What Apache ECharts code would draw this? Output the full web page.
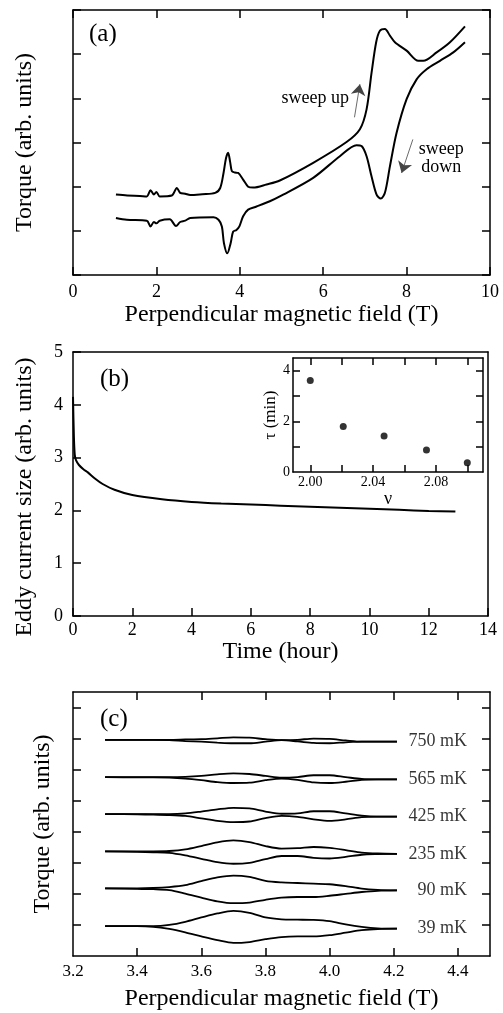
<!DOCTYPE html>
<html>
<head>
<meta charset="utf-8">
<script src="https://cdn.jsdelivr.net/npm/echarts@6/dist/echarts.min.js"></script>
<style>
  html, body { margin: 0; padding: 0; background: #fff; }
  #chart { width: 503px; height: 1013px; }
</style>
</head>
<body>
<div id="chart"></div>
<script>
// (a) torque vs field, up and down sweeps
var fieldUp = [1.03,1.3,1.6,1.77,1.86,1.94,2.0,2.08,2.37,2.49,2.57,2.69,2.81,3.1,3.41,3.53,3.61,3.67,3.72,3.77,3.81,3.88,3.96,4.08,4.2,4.32,4.64,4.96,5.76,6.56,6.88,7.04,7.16,7.27,7.36,7.48,7.6,7.72,8.0,8.28,8.4,8.72,9.04,9.4];
var torqueUp = [1.82,1.80,1.79,1.78,1.92,1.82,1.88,1.78,1.80,1.97,1.86,1.84,1.81,1.83,1.86,1.97,2.31,2.65,2.77,2.55,2.35,2.32,2.31,2.16,2.0,1.98,2.05,2.14,2.54,3.01,3.3,3.75,4.58,5.27,5.53,5.57,5.42,5.27,5.08,4.85,4.85,5.04,5.27,5.63];
var fieldDown = [1.03,1.29,1.77,1.86,1.94,2.0,2.08,2.32,2.47,2.57,2.69,2.81,3.37,3.49,3.57,3.62,3.7,3.78,3.84,3.92,3.99,4.08,4.2,4.4,4.72,4.96,5.76,6.4,6.8,6.92,7.04,7.16,7.28,7.38,7.48,7.6,7.76,8.0,8.24,8.48,8.8,9.12,9.4];
var torqueDown = [1.29,1.25,1.23,1.10,1.20,1.17,1.23,1.26,1.11,1.20,1.23,1.29,1.31,1.25,1.10,0.72,0.49,0.72,0.98,1.02,1.10,1.33,1.48,1.55,1.67,1.78,2.20,2.69,2.94,2.92,2.69,2.23,1.82,1.73,1.86,2.46,3.22,3.98,4.43,4.66,4.85,5.04,5.27];

// (b) eddy current decay
var timeHours = [0,0.03,0.06,0.1,0.2,0.35,0.5,0.75,1.0,1.4,2.0,3.0,4.0,5.0,6.0,7.0,8.0,9.0,10.0,11.0,12.0,12.9];
var eddySize = [4.15,3.4,3.05,2.95,2.86,2.78,2.72,2.60,2.50,2.39,2.29,2.21,2.16,2.13,2.11,2.09,2.07,2.05,2.03,2.01,1.99,1.98];

// (b) inset
var nu = [2.000,2.021,2.047,2.074,2.100];
var tau = [3.61,1.80,1.42,0.87,0.37];

// (c) loops at several temperatures
var fieldC = [3.30,3.40,3.45,3.50,3.55,3.60,3.65,3.70,3.75,3.80,3.85,3.90,3.95,4.00,4.05,4.10,4.15,4.21];
var tempNames = ['39 mK','90 mK','235 mK','425 mK','565 mK','750 mK'];
var up39   = [0.96,0.96,0.96,1.00,1.10,1.24,1.37,1.45,1.39,1.24,1.18,1.17,1.16,1.12,1.02,0.94,0.89,0.88];
var down39 = [0.96,0.96,0.94,0.87,0.76,0.63,0.51,0.42,0.45,0.54,0.61,0.63,0.63,0.67,0.75,0.83,0.87,0.88];
var up90   = [2.18,2.18,2.19,2.22,2.28,2.41,2.53,2.59,2.55,2.42,2.37,2.35,2.33,2.31,2.25,2.17,2.13,2.11];
var down90 = [2.18,2.16,2.15,2.12,2.01,1.88,1.76,1.70,1.72,1.81,1.88,1.90,1.90,1.94,2.00,2.06,2.10,2.11];
var up235   = [3.37,3.37,3.37,3.38,3.43,3.54,3.66,3.72,3.67,3.54,3.46,3.47,3.51,3.48,3.41,3.33,3.30,3.29];
var down235 = [3.37,3.35,3.34,3.32,3.24,3.13,3.02,2.97,3.00,3.12,3.22,3.22,3.16,3.14,3.19,3.26,3.28,3.29];
var up425   = [4.57,4.57,4.57,4.57,4.59,4.65,4.72,4.77,4.75,4.65,4.58,4.59,4.66,4.66,4.59,4.52,4.49,4.49];
var down425 = [4.57,4.56,4.55,4.54,4.51,4.43,4.35,4.31,4.33,4.44,4.51,4.48,4.40,4.35,4.40,4.47,4.49,4.49];
var up565   = [5.76,5.76,5.76,5.76,5.77,5.80,5.85,5.88,5.86,5.80,5.74,5.76,5.82,5.82,5.76,5.70,5.69,5.69];
var down565 = [5.76,5.75,5.75,5.74,5.71,5.66,5.60,5.57,5.58,5.66,5.71,5.67,5.59,5.57,5.61,5.67,5.69,5.69];
var up750   = [6.96,6.96,6.96,6.96,6.97,6.98,7.01,7.04,7.03,6.98,6.95,6.96,7.00,6.99,6.94,6.90,6.90,6.90];
var down750 = [6.96,6.96,6.96,6.95,6.92,6.90,6.87,6.85,6.85,6.90,6.95,6.91,6.86,6.85,6.88,6.90,6.90,6.90];

var loopsUp = [up39, up90, up235, up425, up565, up750];
var loopsDown = [down39, down90, down235, down425, down565, down750];

var FONT = 'Liberation Serif';

function zip(xs, ys) {
    var out = [];
    for (var i = 0; i < xs.length; i++) out.push([xs[i], ys[i]]);
    return out;
}

// main axis (with labels) or mirror axis (ticks only)
function xAx(grid, min, max, interval, opts) {
    opts = opts || {};
    var mirror = !!opts.mirror;
    return {
        type: 'value', gridIndex: grid, min: min, max: max, interval: interval,
        position: mirror ? 'top' : 'bottom',
        name: opts.name || '', nameLocation: 'middle', nameGap: opts.nameGap || 30,
        nameTextStyle: { fontFamily: FONT, fontSize: opts.nameSize || 24, color: '#000' },
        axisLine: { show: true, onZero: false, lineStyle: { color: '#000', width: 1.5 } },
        axisTick: { show: opts.ticks !== false, inside: true, length: opts.tickLen || 8,
                    lineStyle: { color: '#000', width: 1.5 }, customValues: opts.tickValues },
        axisLabel: { show: !mirror, fontFamily: FONT, fontSize: opts.labelSize || 18, color: '#000',
                     margin: opts.labelMargin || 8, customValues: opts.labelValues,
                     formatter: opts.formatter },
        splitLine: { show: false }
    };
}
function yAx(grid, min, max, interval, opts) {
    opts = opts || {};
    var mirror = !!opts.mirror;
    return {
        type: 'value', gridIndex: grid, min: min, max: max, interval: interval,
        position: mirror ? 'right' : 'left',
        name: opts.name || '', nameLocation: 'middle', nameGap: opts.nameGap || 36,
        nameTextStyle: { fontFamily: FONT, fontSize: opts.nameSize || 24, color: '#000',
                         padding: opts.namePadding || 0 },
        axisLine: { show: true, onZero: false, lineStyle: { color: '#000', width: 1.5 } },
        axisTick: { show: opts.ticks !== false, inside: true, length: opts.tickLen || 8,
                    lineStyle: { color: '#000', width: 1.5 }, customValues: opts.tickValues },
        axisLabel: { show: !mirror && opts.labels !== false, fontFamily: FONT,
                     fontSize: opts.labelSize || 18, color: '#000',
                     margin: opts.labelMargin || 10, customValues: opts.labelValues,
                     formatter: opts.formatter },
        splitLine: { show: false }
    };
}

function lineSeries(xi, data, width) {
    return {
        type: 'line', xAxisIndex: xi, yAxisIndex: xi, data: data,
        showSymbol: false, smooth: 0.3, animation: false, silent: true,
        lineStyle: { color: '#000', width: width }
    };
}

var series = [];
var upS = lineSeries(0, zip(fieldUp, torqueUp), 2);
upS.markLine = {
    silent: true, animation: false, symbol: ['none', 'arrow'], symbolSize: 11,
    label: { show: false },
    lineStyle: { color: '#444', width: 0.8, type: 'solid' },
    data: [
        [{ coord: [6.75, 3.57] }, { coord: [6.88, 4.32] }],
        [{ coord: [8.15, 3.07] }, { coord: [7.88, 2.31] }]
    ]
};
series.push(upS);
series.push(lineSeries(0, zip(fieldDown, torqueDown), 2));
series.push(lineSeries(2, zip(timeHours, eddySize), 2));
series.push({
    type: 'scatter', xAxisIndex: 4, yAxisIndex: 4, data: zip(nu, tau),
    symbolSize: 7, itemStyle: { color: '#000' }, animation: false, silent: true
});
for (var k = 0; k < loopsUp.length; k++) {
    series.push(lineSeries(6, zip(fieldC, loopsUp[k]), 1.8));
    series.push(lineSeries(6, zip(fieldC, loopsDown[k]), 1.8));
}
// temperature labels at the right end of each loop
var tempLabelData = [];
for (var k = 0; k < loopsUp.length; k++) {
    var arr = loopsUp[k];
    tempLabelData.push([4.428, arr[arr.length - 1], tempNames[k]]);
}
series.push({
    type: 'scatter', xAxisIndex: 6, yAxisIndex: 6, data: tempLabelData,
    symbolSize: 0, animation: false, silent: true,
    label: { show: true, position: 'left', distance: 0, formatter: function (p) { return p.value[2]; },
             fontFamily: FONT, fontSize: 18, color: '#000' }
});

var insetTicks = [2.00, 2.02, 2.04, 2.06, 2.08, 2.10];
var insetLabels = [2.00, 2.04, 2.08];

var option = {
    backgroundColor: '#fff',
    animation: false,
    grid: [
        { left: 73, top: 10, width: 417, height: 265 },
        { left: 73, top: 352, width: 415, height: 264 },
        { left: 293, top: 358, width: 190, height: 114 },
        { left: 73, top: 692, width: 417, height: 264 }
    ],
    xAxis: [
        xAx(0, 0, 10, 2, { name: 'Perpendicular magnetic field (T)', nameGap: 28 }),
        xAx(0, 0, 10, 2, { mirror: true }),
        xAx(1, 0, 14, 2, { name: 'Time (hour)', nameGap: 24, labelMargin: 5 }),
        xAx(1, 0, 14, 2, { mirror: true, ticks: false }),
        xAx(2, 1.989, 2.11, null, { name: 'ν', nameGap: 13, nameSize: 18, labelSize: 14, labelMargin: 3,
            tickLen: 7, tickValues: insetTicks, labelValues: insetLabels,
            formatter: function (v) { return v.toFixed(2); } }),
        xAx(2, 1.989, 2.11, null, { mirror: true, tickLen: 7, tickValues: insetTicks }),
        xAx(3, 3.2, 4.5, 0.2, { name: 'Perpendicular magnetic field (T)', nameGap: 31, labelSize: 17, labelMargin: 7,
            tickValues: [3.4, 3.6, 3.8, 4.0, 4.2, 4.4], labelValues: [3.2, 3.4, 3.6, 3.8, 4.0, 4.2, 4.4],
            formatter: function (v) { return v.toFixed(1); } }),
        xAx(3, 3.2, 4.5, 0.2, { mirror: true, tickValues: [3.4, 3.6, 3.8, 4.0, 4.2, 4.4] })
    ],
    yAxis: [
        yAx(0, 0, 6, 1, { name: 'Torque (arb. units)', nameGap: 36, labels: false }),
        yAx(0, 0, 6, 1, { mirror: true }),
        yAx(1, 0, 5, 1, { name: 'Eddy current size (arb. units)', nameGap: 36, namePadding: [0, 26, 0, 0] }),
        yAx(1, 0, 5, 1, { mirror: true, ticks: false }),
        yAx(2, 0, 4.5, null, { name: 'τ (min)', nameGap: 9, nameSize: 17, labelSize: 14, labelMargin: 3,
            tickLen: 7, tickValues: [1, 2, 3, 4], labelValues: [0, 2, 4] }),
        yAx(2, 0, 4.5, null, { mirror: true, tickLen: 7, tickValues: [1, 2, 3, 4] }),
        yAx(3, 0, 8.5, null, { name: 'Torque (arb. units)', nameGap: 18, labels: false,
            tickValues: [1, 2, 3, 4, 5, 6, 7, 8] }),
        yAx(3, 0, 8.5, null, { mirror: true, tickValues: [1, 2, 3, 4, 5, 6, 7, 8] })
    ],
    series: series
};

var chart = echarts.init(document.getElementById('chart'), null, { renderer: 'canvas' });
chart.setOption(option);

// text annotations placed through the axis scales
function txt(gridIndex, coord, text, align, size) {
    var p = chart.convertToPixel({ gridIndex: gridIndex }, coord);
    return { type: 'text', x: p[0], y: p[1], silent: true,
             style: { text: text, fontFamily: FONT, fontSize: size, fill: '#000',
                      align: align, verticalAlign: 'middle' } };
}
chart.setOption({
    graphic: [
        { type: 'text', x: 89, y: 34, style: { text: '(a)', fontFamily: FONT, fontSize: 25, fill: '#000', verticalAlign: 'middle' } },
        { type: 'text', x: 100, y: 379, style: { text: '(b)', fontFamily: FONT, fontSize: 25, fill: '#000', verticalAlign: 'middle' } },
        { type: 'text', x: 100, y: 719, style: { text: '(c)', fontFamily: FONT, fontSize: 25, fill: '#000', verticalAlign: 'middle' } },
        txt(0, [6.62, 4.0], 'sweep up', 'right', 18),
        txt(0, [8.83, 2.84], 'sweep', 'center', 18),
        txt(0, [8.83, 2.45], 'down', 'center', 18)
    ]
});
</script>
</body>
</html>
